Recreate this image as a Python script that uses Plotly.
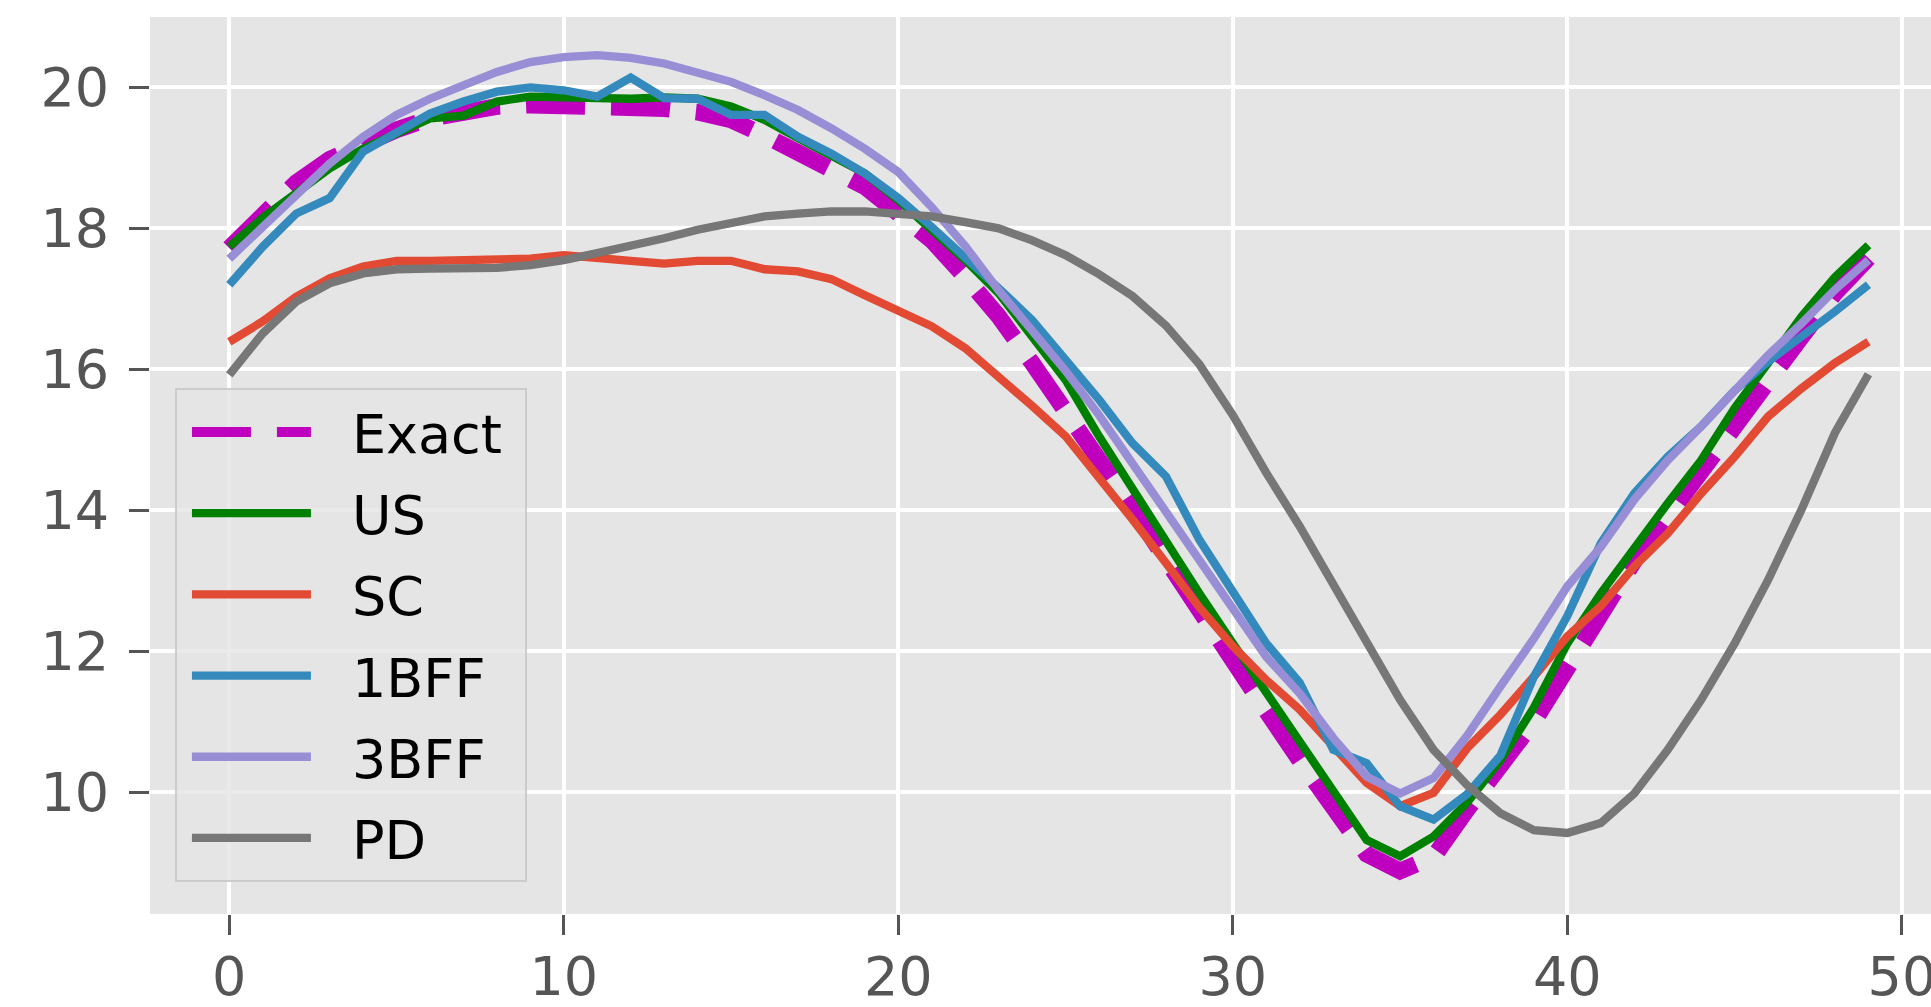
import plotly.graph_objects as go

x_vals = list(range(50))

exact = [17.72, 18.22, 18.65, 18.98, 19.20, 19.40, 19.56, 19.67, 19.73, 19.75,
         19.75, 19.74, 19.71, 19.70, 19.65, 19.54, 19.32, 19.09, 18.87, 18.59,
         18.21, 17.83, 17.31, 16.75, 16.09, 15.42, 14.74, 14.03, 13.30, 12.55,
         11.85, 11.15, 10.45, 9.75, 9.12, 8.88, 9.08, 9.75, 10.38, 11.00,
         11.76, 12.55, 13.28, 13.91, 14.57, 15.23, 15.85, 16.46, 17.08, 17.58]

us = [17.74, 18.15, 18.50, 18.85, 19.13, 19.35, 19.56, 19.60, 19.80, 19.87,
      19.86, 19.84, 19.84, 19.86, 19.84, 19.73, 19.54, 19.28, 19.04, 18.78,
      18.40, 17.98, 17.55, 17.08, 16.46, 15.85, 15.05, 14.29, 13.58, 12.82,
      12.11, 11.40, 10.69, 10.03, 9.32, 9.09, 9.37, 9.85, 10.45, 11.20,
      12.11, 12.82, 13.48, 14.10, 14.71, 15.45, 16.09, 16.75, 17.31, 17.76]

sc = [16.39, 16.68, 17.03, 17.29, 17.46, 17.54, 17.54, 17.55, 17.56, 17.57,
      17.62, 17.57, 17.54, 17.50, 17.54, 17.54, 17.42, 17.39, 17.28, 17.05,
      16.84, 16.61, 16.30, 15.90, 15.48, 15.05, 14.48, 13.87, 13.25, 12.62,
      12.07, 11.59, 11.17, 10.65, 10.13, 9.80, 9.99, 10.62, 11.10, 11.64,
      12.21, 12.64, 13.20, 13.67, 14.24, 14.76, 15.33, 15.73, 16.09, 16.39]

bff1 = [17.20, 17.74, 18.21, 18.43, 19.09, 19.37, 19.63, 19.80, 19.94, 20.00,
        19.96, 19.87, 20.14, 19.85, 19.84, 19.61, 19.61, 19.30, 19.06, 18.78,
        18.43, 18.02, 17.60, 17.15, 16.70, 16.15, 15.57, 14.95, 14.48, 13.58,
        12.82, 12.11, 11.55, 10.60, 10.41, 9.80, 9.61, 9.97, 10.52, 11.64,
        12.50, 13.53, 14.24, 14.76, 15.19, 15.70, 16.11, 16.46, 16.82, 17.20]

bff3 = [17.57, 18.02, 18.50, 18.92, 19.30, 19.61, 19.84, 20.03, 20.22, 20.36,
        20.43, 20.46, 20.42, 20.34, 20.22, 20.08, 19.89, 19.68, 19.42, 19.13,
        18.80, 18.30, 17.75, 17.12, 16.55, 15.98, 15.35, 14.67, 13.97, 13.27,
        12.59, 11.92, 11.40, 10.77, 10.22, 9.98, 10.20, 10.80, 11.50, 12.18,
        12.92, 13.48, 14.15, 14.71, 15.19, 15.70, 16.20, 16.65, 17.13, 17.55]

pd_vals = [15.92, 16.51, 16.96, 17.22, 17.36, 17.42, 17.43, 17.43, 17.44, 17.48,
           17.55, 17.65, 17.74, 17.86, 17.98, 18.09, 18.17, 18.21, 18.24, 18.24,
           18.21, 18.17, 18.09, 18.00, 17.83, 17.62, 17.35, 17.04, 16.62, 16.07,
           15.35, 14.53, 13.77, 12.96, 12.11, 11.31, 10.60, 10.10, 9.70, 9.46,
           9.42, 9.56, 9.98, 10.60, 11.31, 12.11, 13.01, 14.01, 15.10, 15.93]

x_ticks = [0, 10, 20, 30, 40, 50]
y_ticks = [10, 12, 14, 16, 18, 20]

series = [
    ("Exact", exact, "#BF00BF", 16.7, "59px,26px"),
    ("US", us, "#008000", 8.3, "solid"),
    ("SC", sc, "#E24A33", 8.3, "solid"),
    ("1BFF", bff1, "#348ABD", 8.3, "solid"),
    ("3BFF", bff3, "#988ED5", 8.3, "solid"),
    ("PD", pd_vals, "#777777", 8.3, "solid"),
]

PAD_L = "\u2002\u2006"  # visual gap between legend line and label
PAD_R = "\u00a0"        # right padding inside the legend box

fig = go.Figure()
for name, vals, color, width, dash in series:
    fig.add_trace(go.Scatter(
        x=x_vals, y=vals, mode="lines", name=PAD_L + name + PAD_R, legendgroup=name,
        line=dict(color=color, width=width, dash=dash),
    ))

axis_common = dict(
    showgrid=True, gridcolor="white", gridwidth=4,
    zeroline=False, showline=False, automargin=False,
    ticks="outside", ticklen=20, tickwidth=3, tickcolor="#555555",
    tickfont=dict(family="DejaVu Sans", size=54, color="#555555"),
)

fig.update_layout(
    width=1931, height=1007,
    margin=dict(l=150, r=0, t=17, b=93, autoexpand=False),
    paper_bgcolor="white", plot_bgcolor="#E5E5E5",
    font=dict(family="DejaVu Sans", size=54, color="#555555"),
    xaxis=dict(range=[-2.37, 50.87], tickvals=x_ticks, ticklabeloverflow="allow",
               ticklabelstandoff=-5, **axis_common),
    yaxis=dict(range=[8.27, 21.0], tickvals=y_ticks, ticklabelstandoff=9, **axis_common),
    legend=dict(
        x=0.014, y=0.586, xanchor="left", yanchor="top",
        bgcolor="rgba(229,229,229,0.8)", bordercolor="#CCCCCC", borderwidth=2,
        font=dict(family="DejaVu Sans", size=54, color="black"),
        itemwidth=119, tracegroupgap=8, indentation=10,
    ),
    showlegend=True,
)

fig.write_html("out.html", config={"displayModeBar": False},
               post_script="document.body.style.margin='0';document.body.style.overflow='hidden';")
